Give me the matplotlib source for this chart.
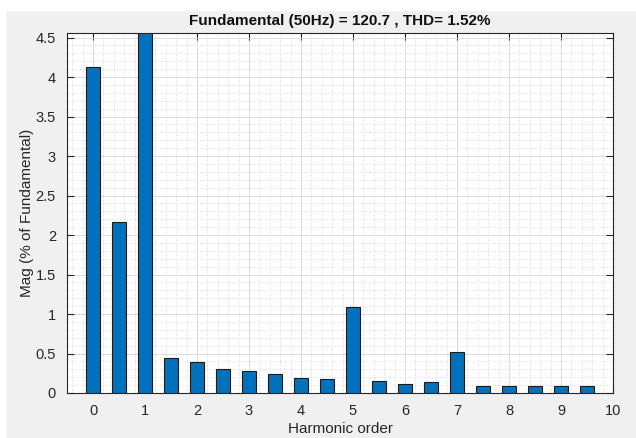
import matplotlib
matplotlib.use("Agg")
import matplotlib.pyplot as plt
from matplotlib.patches import Rectangle
from matplotlib.ticker import AutoMinorLocator

plt.rcParams['font.family'] = ['Liberation Sans', 'DejaVu Sans']

# harmonic order (half-order steps) and magnitude in % of fundamental
orders = [0, 0.5, 1, 1.5, 2, 2.5, 3, 3.5, 4, 4.5,
          5, 5.5, 6, 6.5, 7, 7.5, 8, 8.5, 9, 9.5]
mag = [4.13, 2.16, 100.0, 0.447, 0.388, 0.304, 0.274, 0.245, 0.186, 0.181,
       1.09, 0.152, 0.110, 0.139, 0.519, 0.093, 0.093, 0.093, 0.093, 0.093]
x_ticks = list(range(0, 11))
y_ticks = [0, 0.5, 1, 1.5, 2, 2.5, 3, 3.5, 4, 4.5]

fund = 120.7
thd = 1.52

fig = plt.figure(figsize=(6.36, 4.38), dpi=100)
fig.patch.set_facecolor('#f0f0f0')
# white strips top and left as in the screenshot
fig.patches.append(Rectangle((0, (438 - 10) / 438), 1, 10 / 438,
                             transform=fig.transFigure, color='white',
                             zorder=-5))
fig.patches.append(Rectangle((0, 0), 5 / 636, 1,
                             transform=fig.transFigure, color='white',
                             zorder=-5))

ax = fig.add_axes([67 / 636, 45 / 438, (613 - 67) / 636, (393 - 33) / 438])
ax.set_facecolor('white')

ax.bar(orders, mag, width=0.27, color='#0072BD', edgecolor='#1c1c1c',
       linewidth=0.8, zorder=2)

ax.set_xlim(-0.5, 10)
ax.set_ylim(0, 4.557)
ax.set_xticks(x_ticks)
ax.set_yticks(y_ticks)
ax.set_yticklabels([f'{v:g}' for v in y_ticks])
ax.xaxis.set_minor_locator(AutoMinorLocator(5))
ax.yaxis.set_minor_locator(AutoMinorLocator(5))

ax.grid(which='major', color='#dcdcdc', linewidth=0.7, zorder=0)
ax.grid(which='minor', color='#cfcfcf', linestyle=(0, (1, 2)),
        linewidth=0.6, zorder=0)
ax.set_axisbelow(True)

ax.tick_params(which='major', direction='in', length=5, width=0.8,
               top=True, right=True, colors='#262626', labelsize=10.5,
               pad=8)
ax.tick_params(which='minor', length=0)
for s in ax.spines.values():
    s.set_color('#262626')
    s.set_linewidth(0.8)
    s.set_zorder(3)

ax.set_xlabel('Harmonic order', fontsize=11, color='#262626', labelpad=3)
ax.set_ylabel('Mag (% of Fundamental)', fontsize=11, color='#262626',
              labelpad=1)
ax.set_title(f'Fundamental (50Hz) = {fund} , THD= {thd}%', fontsize=11,
             fontweight='bold', color='#111111', pad=6)

fig.savefig('out.png', dpi=100, facecolor=fig.get_facecolor())
